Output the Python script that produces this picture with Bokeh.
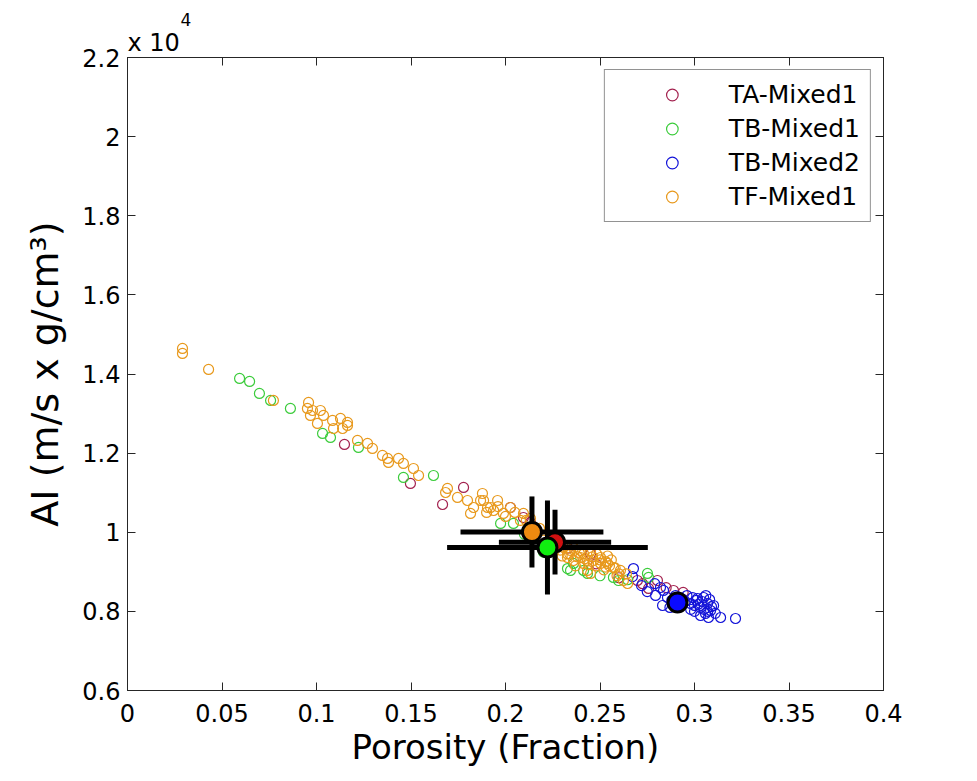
from bokeh.plotting import figure
from bokeh.models import LinearAxis, FixedTicker, Legend, LegendItem, Title
from bokeh.embed import file_html
from bokeh.resources import INLINE
import numpy as np

FONT = "DejaVu Sans"

# ---------------- data ----------------
x_ticks = [0, 0.05, 0.1, 0.15, 0.2, 0.25, 0.3, 0.35, 0.4]
x_tick_labels = ["0", "0.05", "0.1", "0.15", "0.2", "0.25", "0.3", "0.35", "0.4"]
y_ticks = [6000, 8000, 10000, 12000, 14000, 16000, 18000, 20000, 22000]
y_tick_labels = ["0.6", "0.8", "1", "1.2", "1.4", "1.6", "1.8", "2", "2.2"]

series_names = ["TA-Mixed1", "TB-Mixed1", "TB-Mixed2", "TF-Mixed1"]
series_colors = ["#a3224f", "#3ccc3c", "#1414d8", "#e8991c"]

ta_x = [0.1148, 0.1497, 0.1667, 0.1778, 0.2026, 0.2095, 0.2132, 0.2250, 0.2330, 0.2450,
        0.2480, 0.2600, 0.2698, 0.2725, 0.2757, 0.2804, 0.2850, 0.2889, 0.2940]
ta_y = [12219, 11233, 10702, 11132, 10626, 10373, 10250, 9700, 9600, 9450,
        9200, 8850, 8781, 8700, 8579, 8781, 8600, 8528, 8480]

tb1_x = [0.0593, 0.0646, 0.0698, 0.0757, 0.0862, 0.1032, 0.1074, 0.1222, 0.1460, 0.1619,
         0.1974, 0.2042, 0.2100, 0.2200, 0.2328, 0.2344, 0.2360, 0.2413, 0.2434, 0.2500,
         0.2571, 0.2598, 0.2646, 0.2751, 0.2757]
tb1_y = [13887, 13812, 13508, 13331, 13129, 12497, 12396, 12143, 11385, 11435,
         10222, 10222, 9950, 9500, 9083, 9034, 9211, 9034, 8958, 8900,
         8857, 8780, 8800, 8958, 8858]

tb2_x = [0.2677, 0.2672, 0.2720, 0.2750, 0.2790, 0.2794, 0.2820, 0.2831, 0.2836, 0.2857,
         0.2870, 0.2880, 0.2900, 0.2930, 0.2950, 0.2960, 0.2979, 0.2980, 0.2990, 0.3000,
         0.3016, 0.3020, 0.3032, 0.3032, 0.3040, 0.3048, 0.3058, 0.3060, 0.3069, 0.3074,
         0.3080, 0.3085, 0.3090, 0.3101, 0.3110, 0.3138, 0.3217,
         0.3000, 0.3050, 0.3010, 0.2940, 0.3070]
tb2_y = [9083, 8880, 8650, 8500, 8700, 8402, 8604, 8149, 8528, 8351,
         8100, 8280, 8400, 8150, 8250, 8400, 8199, 8050, 8350, 8000,
         8326, 8180, 8098, 7896, 8250, 8351, 7947, 8400, 8199, 7845,
         8300, 8022, 8120, 8149, 7950, 7845, 7820,
         8150, 8050, 8280, 8300, 8000]

tf_x = [0.0291, 0.0291, 0.0429, 0.0772, 0.0952, 0.0958, 0.0968, 0.0979, 0.1005, 0.1021,
        0.1037, 0.1085, 0.1090, 0.1127, 0.1138, 0.1164, 0.1164, 0.1217, 0.1270, 0.1296,
        0.1349, 0.1376, 0.1381, 0.1434, 0.1460, 0.1513, 0.1540, 0.1683, 0.1693, 0.1746,
        0.1799, 0.1815, 0.1831, 0.1868, 0.1878, 0.1884, 0.1905, 0.1921, 0.1937, 0.1958,
        0.1989, 0.2026, 0.2079, 0.2095, 0.2132, 0.2180, 0.2200, 0.2270, 0.2290, 0.2307,
        0.2328, 0.2328, 0.2344, 0.2360, 0.2360, 0.2397, 0.2397, 0.2413, 0.2413, 0.2434,
        0.2434, 0.2450, 0.2450, 0.2466, 0.2482, 0.2503, 0.2503, 0.2520, 0.2540, 0.2540,
        0.2560, 0.2571, 0.2590, 0.2608, 0.2624, 0.2640, 0.2646,
        0.2340, 0.2380, 0.2420, 0.2460, 0.2500, 0.2530, 0.2550, 0.2580, 0.2600, 0.2480,
        0.2440, 0.2370, 0.2300, 0.2390, 0.2530, 0.2000, 0.2050, 0.2110, 0.1960, 0.1900]
tf_y = [14646, 14519, 14115, 13331, 13129, 13281, 12952, 13078, 12750, 13078,
        12952, 12826, 12623, 12876, 12623, 12775, 12699, 12320, 12244, 12118,
        11941, 11865, 11764, 11865, 11739, 11612, 11435, 11005, 11107, 10879,
        10803, 10475, 10626, 10803, 10980, 10803, 10626, 10626, 10550, 10803,
        10475, 10626, 10298, 10475, 10350, 10100, 9800, 9700, 9550, 9615,
        9362, 9450, 9539, 9286, 9600, 9362, 9539, 9211, 9450, 9286,
        9034, 9539, 8958, 9286, 9450, 9211, 9362, 9050, 9211, 9400,
        9300, 9109, 8900, 9034, 8781, 8950, 8705,
        9450, 9380, 9330, 9380, 9300, 9260, 9150, 9100, 8950, 9150,
        9180, 9150, 9400, 9480, 9120, 10400, 10500, 10300, 10650, 10500]

# group means with error bars (order: TA, TB1, TB2, TF)
mean_x = [0.2262, 0.2222, 0.2910, 0.2140]
mean_y = [9750, 9615, 8225, 10007]
err_x = [0.0297, 0.0531, 0.0050, 0.0378]
err_y = [818, 1188, 200, 898]
mean_colors = ["#d01010", "#10ee10", "#0a0aff", "#ee8a10"]

# ---------------- figure ----------------
p = figure(width=963, height=775, x_range=(0, 0.4), y_range=(6000, 22000),
           title=None, output_backend="svg", toolbar_location=None,
           min_border_left=127, min_border_right=80, min_border_top=57, min_border_bottom=85,
           background_fill_color="white", border_fill_color="white")
p.grid.visible = False
p.outline_line_color = "#262626"
p.outline_line_width = 1

xs = [ta_x, tb1_x, tb2_x, tf_x]
ys = [ta_y, tb1_y, tb2_y, tf_y]
items = []
for name, col, sx, sy in zip(series_names, series_colors, xs, ys):
    r = p.scatter(sx, sy, size=10, marker="circle", fill_color=None,
                  line_color=col, line_width=1.2)
    items.append(LegendItem(label=name, renderers=[r]))

mx = np.array(mean_x); my = np.array(mean_y)
ex = np.array(err_x); ey = np.array(err_y)
p.segment(x0=mx - ex, y0=my, x1=mx + ex, y1=my, line_color="black", line_width=5)
p.segment(x0=mx, y0=my - ey, x1=mx, y1=my + ey, line_color="black", line_width=5)
order = [0, 3, 1, 2]
p.scatter([mean_x[i] for i in order], [mean_y[i] for i in order], size=19, marker="circle",
          fill_color=[mean_colors[i] for i in order], line_color="black", line_width=3)

# axes
def style_axis(ax, font_size="24px"):
    ax.major_tick_in = 8
    ax.major_tick_out = 0
    ax.minor_tick_line_color = None
    ax.axis_line_color = "#262626"
    ax.major_tick_line_color = "#262626"
    ax.major_label_text_font = FONT
    ax.major_label_text_font_size = font_size
    ax.major_label_text_color = "black"
    ax.axis_label_text_font = FONT
    ax.axis_label_text_font_style = "normal"
    ax.axis_label_text_color = "black"

xa = p.xaxis[0]
xa.ticker = FixedTicker(ticks=x_ticks)
xa.major_label_overrides = {t: l for t, l in zip(x_ticks, x_tick_labels)}
style_axis(xa)
xa.major_label_standoff = 13
xa.axis_label = "Porosity (Fraction)"
xa.axis_label_text_font_size = "34px"
xa.axis_label_standoff = 2

ya = p.yaxis[0]
ya.ticker = FixedTicker(ticks=y_ticks)
ya.major_label_overrides = {t: l for t, l in zip(y_ticks, y_tick_labels)}
style_axis(ya)
ya.major_label_standoff = 7
ya.axis_label = "AI (m/s x g/cm³)"
ya.axis_label_text_font_size = "38px"
ya.axis_label_standoff = 12

ra = LinearAxis(ticker=FixedTicker(ticks=y_ticks))
style_axis(ra, "0px")
ra.major_label_standoff = 0
ra.major_label_overrides = {t: "" for t in y_ticks}
p.add_layout(ra, "right")

ta_ax = LinearAxis(ticker=FixedTicker(ticks=x_ticks))
style_axis(ta_ax, "0px")
ta_ax.major_label_standoff = 0
ta_ax.major_label_overrides = {t: "" for t in x_ticks}
p.add_layout(ta_ax, "above")

# exponent text above the axes (stacked titles: base then superscript)
p.add_layout(Title(text="x 10", align="left", offset=0, standoff=2,
                   text_font=FONT, text_font_size="24px", text_font_style="normal",
                   text_color="black"), "above")
p.add_layout(Title(text="4", align="left", offset=53, standoff=0,
                   text_font=FONT, text_font_size="17px", text_font_style="normal",
                   text_color="black"), "above")

legend = Legend(items=items, location="top_right", margin=12, padding=10,
                glyph_width=114, glyph_height=29, label_height=29, spacing=5,
                label_standoff=0, label_text_font=FONT, label_text_font_size="25px",
                label_text_color="black",
                border_line_color="#262626", border_line_width=1,
                background_fill_color="white", background_fill_alpha=1.0)
p.add_layout(legend, "center")

open("out.html", "w").write(file_html(p, INLINE))
